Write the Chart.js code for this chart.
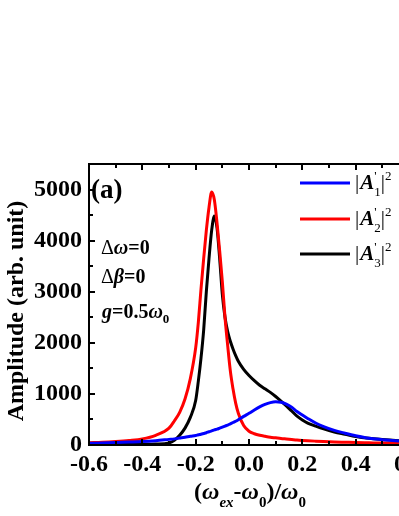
<!DOCTYPE html>
<html>
<head>
<meta charset="utf-8">
<script src="https://cdn.jsdelivr.net/npm/chart.js@4"></script>
<style>
  html, body { margin: 0; padding: 0; background: #fff; overflow: hidden; }
  #wrap { position: absolute; left: 0; top: 0; width: 430px; height: 516px; }
</style>
</head>
<body>
<div id="wrap"><canvas id="c" width="430" height="516"></canvas></div>
<script>
// detuning (omega_ex - omega_0)/omega_0
const xValues = [-0.6, -0.55, -0.5, -0.45, -0.4, -0.35, -0.3, -0.28, -0.26, -0.24, -0.22, -0.2,
  -0.19, -0.18, -0.17, -0.16, -0.15, -0.14, -0.13, -0.12, -0.11, -0.1, -0.09, -0.08, -0.07,
  -0.06, -0.05, -0.04, -0.02, 0, 0.02, 0.04, 0.06, 0.08, 0.1, 0.12, 0.14, 0.16, 0.18, 0.2,
  0.22, 0.25, 0.28, 0.32, 0.36, 0.4, 0.45, 0.5, 0.55, 0.6]

// |A'1|^2 (blue)
const a1 = [33, 40, 48, 57, 67, 85, 110, 120, 135, 150, 170, 185,
  200, 210, 225, 240, 260, 275, 295, 310, 330, 350, 370, 390, 415,
  440, 465, 495, 560, 620, 685, 745, 795, 830, 845, 835, 800, 740, 655, 585,
  520, 430, 360, 285, 230, 180, 130, 105, 85, 72]

// |A'2|^2 (red)
const a2 = [45, 55, 70, 90, 120, 190, 330, 470, 640, 900, 1300, 1900,
  2400, 3050, 3650, 4200, 4650, 4950, 4800, 4350, 3800, 3200, 2500, 1950, 1450,
  1100, 820, 620, 380, 270, 220, 190, 170, 152, 140, 128, 118, 108, 98, 90,
  83, 75, 68, 60, 54, 48, 43, 38, 34, 31]

// |A'3|^2 (black)
const a3 = [8, 8, 9, 10, 12, 18, 40, 90, 190, 330, 540, 870,
  1250, 1700, 2250, 3000, 3650, 4200, 4480, 4250, 3650, 2950, 2500, 2220, 2030,
  1880, 1750, 1640, 1480, 1360, 1260, 1170, 1100, 1030, 950, 860, 765, 665, 565, 490,
  430, 370, 315, 255, 210, 165, 130, 108, 90, 78]

const xTicks = [-0.6, -0.4, -0.2, 0.0, 0.2, 0.4, 0.6]
const yTicks = [0, 1000, 2000, 3000, 4000, 5000]

const serif = '"Liberation Serif", "Times New Roman", serif'

function pts(arr){
    return xValues.map((x, i) => ({x: x, y: arr[i]}))
}

// draws a run of text pieces with their own font and vertical shift
function drawRuns(ctx, x, y, runs){
    ctx.textBaseline = 'alphabetic'
    ctx.textAlign = 'left'
    for (const r of runs){
        ctx.font = r.font
        ctx.fillText(r.t, x, y + (r.dy || 0))
        if (!r.stay) x += ctx.measureText(r.t).width + (r.after || 0)
    }
    return x
}

function measureRuns(ctx, runs){
    let w = 0
    for (const r of runs){
        ctx.font = r.font
        if (!r.stay) w += ctx.measureText(r.t).width + (r.after || 0)
    }
    return w
}

const B = 'bold 24px ' + serif
const BI = 'italic bold 24px ' + serif
const BIs = 'italic bold 15px ' + serif
const Bs = 'bold 15px ' + serif

const decor = {
    id: 'decor',
    afterDatasetsDraw(chart){
        const ctx = chart.ctx
        const a = chart.chartArea
        const xs = chart.scales.x
        const ys = chart.scales.y
        ctx.save()
        ctx.strokeStyle = '#000'
        ctx.fillStyle = '#000'
        ctx.lineWidth = 2
        ctx.strokeRect(a.left, a.top, a.right - a.left, a.bottom - a.top)

        // inward ticks on all four sides
        ctx.beginPath()
        for (let v = -0.6; v <= 0.601; v += 0.1){
            const px = Math.round(xs.getPixelForValue(v))
            const major = Math.abs(Math.round(v * 10) % 2) === 0
            const len = major ? 6 : 4
            ctx.moveTo(px, a.bottom); ctx.lineTo(px, a.bottom - len)
            ctx.moveTo(px, a.top); ctx.lineTo(px, a.top + len)
        }
        for (let v = 0; v <= 5500; v += 500){
            const py = Math.round(ys.getPixelForValue(v))
            const len = v % 1000 === 0 ? 6 : 4
            ctx.moveTo(a.left, py); ctx.lineTo(a.left + len, py)
            ctx.moveTo(a.right, py); ctx.lineTo(a.right - len, py)
        }
        ctx.stroke()

        // y axis title
        ctx.save()
        ctx.translate(17, 311)
        ctx.rotate(-Math.PI / 2)
        ctx.font = B
        ctx.textAlign = 'center'
        ctx.textBaseline = 'middle'
        ctx.fillText('Amplitude (arb. unit)', 0, 0)
        ctx.restore()

        // x axis title
        const xt = [
            {t: '(', font: B},
            {t: 'ω', font: BI},
            {t: 'ex', font: BIs, dy: 8},
            {t: '-', font: B},
            {t: 'ω', font: BI},
            {t: '0', font: Bs, dy: 8},
            {t: ')/', font: B},
            {t: 'ω', font: BI},
            {t: '0', font: Bs, dy: 8}
        ]
        const w = measureRuns(ctx, xt)
        drawRuns(ctx, 250 - w / 2, 499, xt)

        // panel label and parameters
        drawRuns(ctx, 91, 198, [{t: '(a)', font: 'bold 27px ' + serif}])
        const P = 'bold 20px ' + serif
        const PI = 'italic bold 20px ' + serif
        drawRuns(ctx, 101, 254, [{t: 'Δ', font: '20px ' + serif}, {t: 'ω', font: PI}, {t: '=0', font: P}])
        drawRuns(ctx, 101, 283, [{t: 'Δ', font: '20px ' + serif}, {t: 'β', font: PI}, {t: '=0', font: P}])
        drawRuns(ctx, 102, 318, [{t: 'g', font: PI}, {t: '=0.5', font: P}, {t: 'ω', font: PI}, {t: '0', font: 'bold 13px ' + serif, dy: 5}])

        // legend
        const rows = [['1', 183], ['2', 219], ['3', 254]]
        const S = '13px ' + serif
        chart.data.datasets.forEach((ds, i) => {
            const ly = rows[i][1]
            ctx.strokeStyle = ds.borderColor
            ctx.lineWidth = 3
            ctx.beginPath()
            ctx.moveTo(300, ly); ctx.lineTo(350, ly)
            ctx.stroke()
            drawRuns(ctx, 355, ly + 6, [
                {t: '|', font: '21px ' + serif, after: 1},
                {t: 'A', font: 'italic bold 21px ' + serif, after: 0},
                {t: "'", font: S, dy: -9, stay: true},
                {t: rows[i][0], font: S, dy: 7, after: 0},
                {t: '|', font: '21px ' + serif},
                {t: '2', font: S, dy: -9}
            ])
        })
        ctx.restore()
    }
}

new Chart(document.getElementById('c'), {
    type: 'line',
    data: {
        datasets: [
            {label: "|A'1|^2", data: pts(a1), borderColor: 'rgb(0,0,255)'},
            {label: "|A'2|^2", data: pts(a2), borderColor: 'rgb(255,0,0)'},
            {label: "|A'3|^2", data: pts(a3), borderColor: 'rgb(0,0,0)'}
        ]
    },
    options: {
        responsive: false,
        animation: false,
        layout: {padding: {top: 164, right: 21, left: 0, bottom: 0}},
        elements: {
            point: {radius: 0},
            line: {borderWidth: 3, cubicInterpolationMode: 'monotone', fill: false}
        },
        plugins: {legend: {display: false}, tooltip: {enabled: false}},
        scales: {
            x: {
                type: 'linear',
                min: -0.6,
                max: 0.6,
                grid: {display: false, drawTicks: false},
                border: {display: false},
                afterBuildTicks: s => { s.ticks = xTicks.map(v => ({value: v})) },
                afterFit: s => { s.height = 71 },
                ticks: {
                    padding: 5,
                    color: '#000',
                    font: {family: serif, size: 24, weight: 'bold'},
                    callback: v => v.toFixed(1)
                }
            },
            y: {
                min: 0,
                max: 5500,
                grid: {display: false, drawTicks: false},
                border: {display: false},
                afterBuildTicks: s => { s.ticks = yTicks.map(v => ({value: v})) },
                afterFit: s => { s.width = 89 },
                ticks: {
                    padding: 7,
                    color: '#000',
                    font: {family: serif, size: 24, weight: 'bold'},
                    callback: v => String(v)
                }
            }
        }
    },
    plugins: [decor]
})
</script>
</body>
</html>
